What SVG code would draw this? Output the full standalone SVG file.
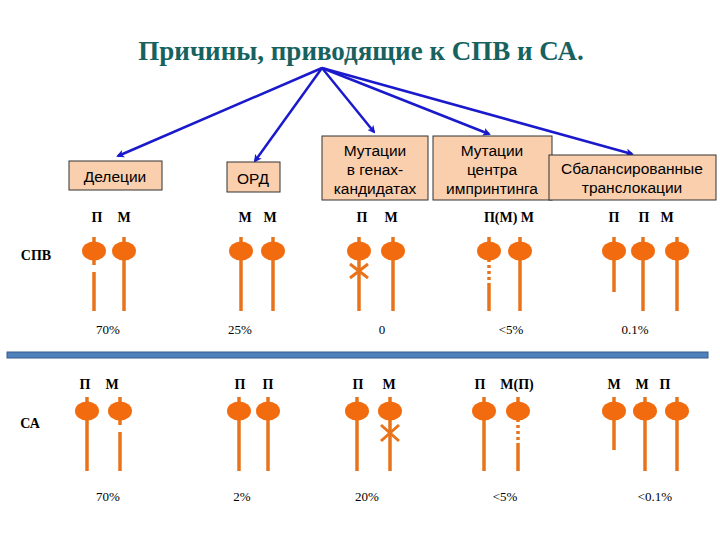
<svg xmlns="http://www.w3.org/2000/svg" width="720" height="540" viewBox="0 0 720 540">
<defs>
<marker id="ah" markerWidth="8" markerHeight="8" refX="6" refY="4" orient="auto" markerUnits="userSpaceOnUse"><path d="M0,0 L8,4 L0,8 L2,4 Z" fill="#1a1acc"/></marker>
<g id="chr"><line x1="0" y1="-14" x2="0" y2="60" class="cl"/><ellipse cx="0" cy="0" rx="12" ry="9.5" fill="#f26c0f"/></g>
</defs>
<style>
.box{fill:#f9cfae;stroke:#333;stroke-width:1}
.bt{font-family:"Liberation Sans",Arial,sans-serif;font-size:15.5px;fill:#000;text-anchor:middle}
.lb{font-family:"Liberation Serif","Times New Roman",serif;font-size:14px;font-weight:bold;fill:#000;text-anchor:middle}
.pc{font-family:"Liberation Serif","Times New Roman",serif;font-size:13px;fill:#000;text-anchor:middle}
.cl{stroke:#e8731a;stroke-width:3.5}
.ar{stroke:#1a1acc;stroke-width:2.5;fill:none}
.wg{stroke:#fff;stroke-width:5}
</style>
<rect width="720" height="540" fill="#fff"/>
<text x="361" y="60" text-anchor="middle" font-family="Liberation Serif,Times New Roman,serif" font-size="27" font-weight="bold" fill="#17625f">Причины, приводящие к СПВ и СА.</text>
<g id="connectors">
<line class="ar" x1="322" y1="68" x2="118" y2="156" marker-end="url(#ah)"/>
<line class="ar" x1="322" y1="68" x2="255" y2="161" marker-end="url(#ah)"/>
<line class="ar" x1="322" y1="68" x2="374" y2="132" marker-end="url(#ah)"/>
<line class="ar" x1="322" y1="68" x2="489" y2="134" marker-end="url(#ah)"/>
<line class="ar" x1="322" y1="68" x2="632" y2="154" marker-end="url(#ah)"/>
</g>
<g id="n-del"><rect class="box" x="69" y="161" width="93" height="29"/><text class="bt" x="115" y="182" font-size="19">Делеции</text></g>
<g id="n-ord"><rect class="box" x="227" y="162" width="53" height="30"/><text class="bt" x="253" y="184" font-size="19">ОРД</text></g>
<g id="n-mut"><rect class="box" x="322" y="136" width="106" height="64"/><text class="bt" x="375" y="156">Мутации</text><text class="bt" x="375" y="175">в генах-</text><text class="bt" x="375" y="194">кандидатах</text></g>
<g id="n-imp"><rect class="box" x="433" y="136" width="119" height="64"/><text class="bt" x="492" y="156">Мутации</text><text class="bt" x="492" y="175">центра</text><text class="bt" x="492" y="194">импринтинга</text></g>
<g id="n-tr"><rect class="box" x="549" y="155" width="167" height="45"/><text class="bt" x="632" y="174">Сбалансированные</text><text class="bt" x="632" y="193">транслокации</text></g>

<text class="lb" x="36" y="260" font-size="13">СПВ</text>
<text class="lb" x="30" y="428" font-size="13">СА</text>
<rect x="7" y="352" width="701" height="6" fill="#4f81bd" stroke="#385d8a"/>

<g id="spv">
<text class="lb" x="97" y="222">П</text><text class="lb" x="124" y="222">М</text>
<use href="#chr" x="94" y="251"/><use href="#chr" x="124" y="251"/><line class="wg" x1="94" y1="265" x2="94" y2="272"/>
<text class="lb" x="245" y="222">М</text><text class="lb" x="270" y="222">М</text>
<use href="#chr" x="241" y="251"/><use href="#chr" x="273" y="251"/>
<text class="lb" x="362" y="222">П</text><text class="lb" x="391" y="222">М</text>
<use href="#chr" x="359" y="251"/><use href="#chr" x="393" y="251"/>
<path d="M350,264 L368,278 M368,264 L350,278" stroke="#e8731a" stroke-width="3"/>
<text class="lb" x="509" y="222">П(М) М</text>
<use href="#chr" x="489" y="251"/><use href="#chr" x="520" y="251"/>
<line x1="489" y1="262" x2="489" y2="285" stroke="#fff" stroke-width="5" stroke-dasharray="3,3"/>
<text class="lb" x="614" y="222">П</text><text class="lb" x="644" y="222">П</text><text class="lb" x="667" y="222">М</text>
<use href="#chr" x="614" y="251"/><use href="#chr" x="643" y="251"/><use href="#chr" x="677" y="251"/>
<line class="wg" x1="614" y1="292" x2="614" y2="314"/>
<text class="pc" x="108" y="334">70%</text><text class="pc" x="240" y="334">25%</text><text class="pc" x="382" y="334">0</text><text class="pc" x="511" y="334">&lt;5%</text><text class="pc" x="635" y="334">0.1%</text>
</g>

<g id="sa">
<text class="lb" x="85" y="389">П</text><text class="lb" x="112" y="389">М</text>
<use href="#chr" x="87" y="411"/><use href="#chr" x="120" y="411"/><line class="wg" x1="120" y1="425" x2="120" y2="432"/>
<text class="lb" x="240" y="389">П</text><text class="lb" x="268" y="389">П</text>
<use href="#chr" x="239" y="411"/><use href="#chr" x="268" y="411"/>
<text class="lb" x="358" y="389">П</text><text class="lb" x="389" y="389">М</text>
<use href="#chr" x="357" y="411"/><use href="#chr" x="390" y="411"/>
<path d="M381,425 L399,441 M399,425 L381,441" stroke="#e8731a" stroke-width="3"/>
<text class="lb" x="480" y="389">П</text><text class="lb" x="517" y="389">М(П)</text>
<use href="#chr" x="484" y="411"/><use href="#chr" x="518" y="411"/>
<line x1="518" y1="422" x2="518" y2="446" stroke="#fff" stroke-width="5" stroke-dasharray="3,3"/>
<text class="lb" x="614" y="389">М</text><text class="lb" x="642" y="389">М</text><text class="lb" x="665" y="389">П</text>
<use href="#chr" x="614" y="411"/><use href="#chr" x="645" y="411"/><use href="#chr" x="677" y="411"/>
<line class="wg" x1="614" y1="450" x2="614" y2="474"/>
<text class="pc" x="108" y="501">70%</text><text class="pc" x="242" y="501">2%</text><text class="pc" x="367" y="501">20%</text><text class="pc" x="505" y="501">&lt;5%</text><text class="pc" x="655" y="501">&lt;0.1%</text>
</g>
</svg>
